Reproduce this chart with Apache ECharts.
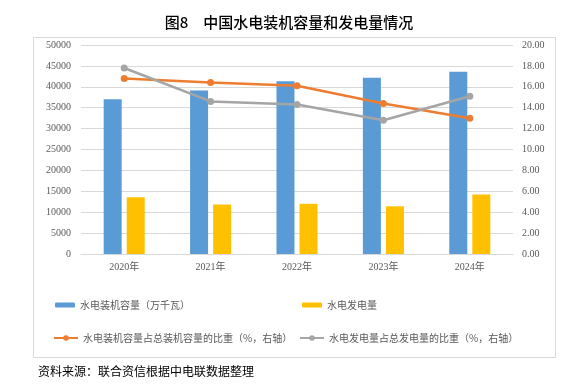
<!DOCTYPE html>
<html><head><meta charset="utf-8">
<script src="https://cdn.jsdelivr.net/npm/echarts@6/dist/echarts.min.js"></script>
<style>html,body{margin:0;padding:0;background:#fff}#c{width:578px;height:388px}</style>
</head><body><div id="c"></div>
<script>
const categories = ['2020年','2021年','2022年','2023年','2024年'];
const capacity = [37016, 39092, 41350, 42154, 43595];
const generation = [13552, 11840, 12020, 11410, 14257];
const capacityShare = [16.8, 16.4, 16.1, 14.4, 13.0];
const generationShare = [17.8, 14.6, 14.3, 12.8, 15.1];
const seriesNames = ['水电装机容量（万千瓦）','水电发电量','水电装机容量占总装机容量的比重（%，右轴）','水电发电量占总发电量的比重（%，右轴）'];
const titleText = '图8　中国水电装机容量和发电量情况';
const sourceText = '资料来源：联合资信根据中电联数据整理';

const serif = '"Liberation Serif","Noto Sans CJK SC",serif';
const cjk = '"Noto Sans CJK SC",sans-serif';
const axisLabel = {color:'#595959', fontSize:10, fontFamily:serif};
const legendText = {color:'#595959', fontSize:10, fontFamily:cjk};
function leg(name, left, top, isLine){
  return {data:[name], left:left, top:top, itemWidth: isLine?24:20, itemHeight: isLine?7:5,
    itemGap:0, textStyle:legendText, selectedMode:false, padding:0};
}
const chart = echarts.init(document.getElementById('c'));
chart.setOption({
  animation:false,
  title:{text:titleText, left:'center', top:10, textStyle:{fontFamily:cjk, fontSize:15, fontWeight:500, color:'#000'}},
  graphic:[
    {type:'rect', shape:{x:33.5,y:37.5,width:522,height:320}, style:{fill:'none', stroke:'#D9D9D9', lineWidth:1}, z:-1},
    {type:'text', left:38, top:365, style:{text:sourceText, font:'12px "Noto Sans CJK SC"', fill:'#000'}}
  ],
  legend:[
    leg(seriesNames[0], 55, 300, false),
    leg(seriesNames[1], 302, 300, false),
    leg(seriesNames[2], 53, 333, true),
    leg(seriesNames[3], 299, 333, true)
  ],
  grid:{left:81, right:65, top:45, bottom:134},
  xAxis:{type:'category', data:categories, axisTick:{show:false},
    axisLine:{lineStyle:{color:'#D9D9D9'}}, axisLabel:Object.assign({margin:8}, axisLabel)},
  yAxis:[
    {type:'value', min:0, max:50000, interval:5000, axisLabel:Object.assign({margin:10, formatter:v=>String(v)}, axisLabel),
      splitLine:{lineStyle:{color:'#D9D9D9'}}, axisLine:{show:false}, axisTick:{show:false}},
    {type:'value', min:0, max:20, interval:2, position:'right',
      axisLabel:Object.assign({margin:9, formatter:v=>v.toFixed(2)}, axisLabel),
      splitLine:{show:false}, axisLine:{show:false}, axisTick:{show:false}}
  ],
  series:[
    {name:seriesNames[0], type:'bar', data:capacity, barWidth:18, barGap:'28%', itemStyle:{color:'#5B9BD5'}},
    {name:seriesNames[1], type:'bar', data:generation, barWidth:18, itemStyle:{color:'#FFC000'}},
    {name:seriesNames[2], type:'line', yAxisIndex:1, data:capacityShare, symbol:'circle', symbolSize:7,
      lineStyle:{color:'#ED7D31', width:2.5}, itemStyle:{color:'#ED7D31'}},
    {name:seriesNames[3], type:'line', yAxisIndex:1, data:generationShare, symbol:'circle', symbolSize:7,
      lineStyle:{color:'#A5A5A5', width:2.5}, itemStyle:{color:'#A5A5A5'}}
  ]
});
</script></body></html>
